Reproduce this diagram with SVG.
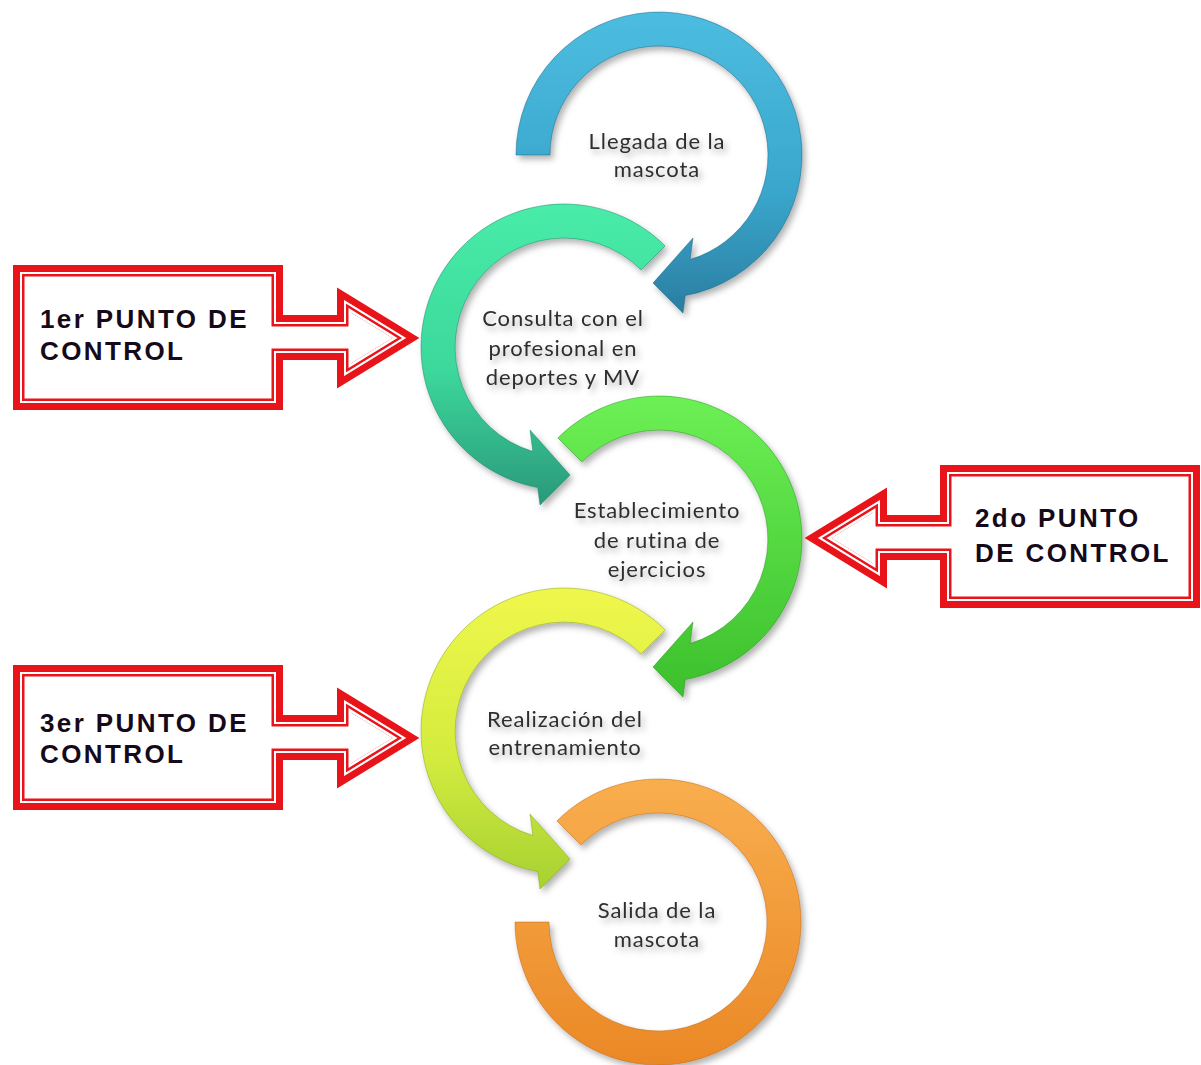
<svg xmlns="http://www.w3.org/2000/svg" xmlns:xlink="http://www.w3.org/1999/xlink" width="1201" height="1065" viewBox="0 0 1201 1065">
<style>
.ring{stroke-width:1;stroke-opacity:.45}
.lbl{font-family:Lato,"Open Sans","Liberation Sans",sans-serif;font-size:22px;fill:#2e2e2e;text-anchor:middle;letter-spacing:0.9px}
.cl{font-family:"Liberation Sans",Arial,sans-serif;font-weight:bold;font-size:26px;fill:#160a1a;letter-spacing:2.4px}
.red{fill:none;stroke:#e8141a;stroke-linejoin:miter}
.wht{fill:none;stroke:#fff;stroke-linejoin:miter}
</style>
<defs>
<filter id="sh" x="-20%" y="-20%" width="140%" height="140%">
<feDropShadow dx="3" dy="4" stdDeviation="3" flood-color="#000" flood-opacity="0.3"/>
</filter>
<linearGradient id="g1" x1="0" y1="0" x2="0" y2="1"><stop offset="0" stop-color="#4cbde0"/><stop offset="0.6" stop-color="#3aa6cb"/><stop offset="1" stop-color="#2a7ea2"/></linearGradient>
<linearGradient id="g2" x1="0" y1="0" x2="0" y2="1"><stop offset="0" stop-color="#48eca8"/><stop offset="0.55" stop-color="#3cd89c"/><stop offset="1" stop-color="#2a987a"/></linearGradient>
<linearGradient id="g3" x1="0" y1="0" x2="0" y2="1"><stop offset="0" stop-color="#6cf055"/><stop offset="1" stop-color="#3cc02c"/></linearGradient>
<linearGradient id="g4" x1="0" y1="0" x2="0" y2="1"><stop offset="0" stop-color="#f0f74c"/><stop offset="0.55" stop-color="#d4ec3e"/><stop offset="1" stop-color="#a6d132"/></linearGradient>
<linearGradient id="g5" x1="0" y1="0" x2="0" y2="1"><stop offset="0" stop-color="#f9ae4e"/><stop offset="1" stop-color="#ea8826"/></linearGradient>
<path id="c1" d="M20,272 H276 V322 H344 V300 L406,338 L344,376 V353 H276 V403 H20 Z"/>
<path id="c2" d="M1193,472 V601 H947 V553 H880 V576 L818,538 L880,500 V522 H947 V472 Z"/>
<path id="c3" d="M20,672 H276 V722 H344 V700 L406,738 L344,776 V753 H276 V803 H20 Z"/>
<clipPath id="k1"><use xlink:href="#c1"/></clipPath>
<clipPath id="k2"><use xlink:href="#c2"/></clipPath>
<clipPath id="k3"><use xlink:href="#c3"/></clipPath>
</defs>
<rect width="1201" height="1065" fill="#fff"/>

<g id="ring5" filter="url(#sh)">
<path transform="translate(658,922)" class="ring" fill="url(#g5)" stroke="#b86010" d="M-101.1,-101.1 A143,143 0 1 1 -143,0 L-109,0 A109,109 0 1 0 -77.1,-77.1 Z"/>
<text class="lbl" x="657" y="918">Salida de la</text>
<text class="lbl" x="657" y="947">mascota</text>
</g>

<g id="ring4" filter="url(#sh)">
<path transform="translate(564,731)" class="ring" fill="url(#g4)" stroke="#809a10" d="M101.1,-101.1 A143,143 0 1 0 -26.3,140.6 L-24,158 L6,128 L-34,83 L-31.1,104.5 A109,109 0 1 1 77.1,-77.1 Z"/>
<text class="lbl" x="565" y="727">Realización del</text>
<text class="lbl" x="565" y="755">entrenamiento</text>
</g>

<g id="ring3" filter="url(#sh)">
<path transform="translate(659,539)" class="ring" fill="url(#g3)" stroke="#1e8a14" d="M-101.1,-101.1 A143,143 0 1 1 26.3,140.6 L24,158 L-6,128 L34,83 L31.1,104.5 A109,109 0 1 0 -77.1,-77.1 Z"/>
<text class="lbl" x="657" y="518">Establecimiento</text>
<text class="lbl" x="657" y="548">de rutina de</text>
<text class="lbl" x="657" y="577">ejercicios</text>
</g>

<g id="ring2" filter="url(#sh)">
<path transform="translate(564,347)" class="ring" fill="url(#g2)" stroke="#147a5a" d="M101.1,-101.1 A143,143 0 1 0 -26.3,140.6 L-24,158 L6,128 L-34,83 L-31.1,104.5 A109,109 0 1 1 77.1,-77.1 Z"/>
<text class="lbl" x="563" y="326">Consulta con el</text>
<text class="lbl" x="563" y="356">profesional en</text>
<text class="lbl" x="563" y="385">deportes y MV</text>
</g>

<g id="ring1" filter="url(#sh)">
<path transform="translate(659,155)" class="ring" fill="url(#g1)" stroke="#145a7a" d="M-143,0 A143,143 0 1 1 26.3,140.6 L24,158 L-6,128 L34,83 L31.1,104.5 A109,109 0 1 0 -109,0 Z"/>
<text class="lbl" x="657" y="149">Llegada de la</text>
<text class="lbl" x="657" y="177">mascota</text>
</g>

<g id="callout1">
<use xlink:href="#c1" class="red" style="fill:#fff" stroke-width="14"/>
<use xlink:href="#c1" class="wht" stroke-width="14" clip-path="url(#k1)"/>
<use xlink:href="#c1" class="red" stroke-width="9" clip-path="url(#k1)"/>
<use xlink:href="#c1" class="wht" stroke-width="4" clip-path="url(#k1)"/>
<text class="cl" x="40" y="328">1er PUNTO DE</text>
<text class="cl" x="40" y="360">CONTROL</text>
</g>

<g id="callout2">
<use xlink:href="#c2" class="red" style="fill:#fff" stroke-width="14"/>
<use xlink:href="#c2" class="wht" stroke-width="14" clip-path="url(#k2)"/>
<use xlink:href="#c2" class="red" stroke-width="9" clip-path="url(#k2)"/>
<use xlink:href="#c2" class="wht" stroke-width="4" clip-path="url(#k2)"/>
<text class="cl" x="975" y="527">2do PUNTO</text>
<text class="cl" x="975" y="562">DE CONTROL</text>
</g>

<g id="callout3">
<use xlink:href="#c3" class="red" style="fill:#fff" stroke-width="14"/>
<use xlink:href="#c3" class="wht" stroke-width="14" clip-path="url(#k3)"/>
<use xlink:href="#c3" class="red" stroke-width="9" clip-path="url(#k3)"/>
<use xlink:href="#c3" class="wht" stroke-width="4" clip-path="url(#k3)"/>
<text class="cl" x="40" y="732">3er PUNTO DE</text>
<text class="cl" x="40" y="763">CONTROL</text>
</g>

<g id="connectors"></g>
</svg>
